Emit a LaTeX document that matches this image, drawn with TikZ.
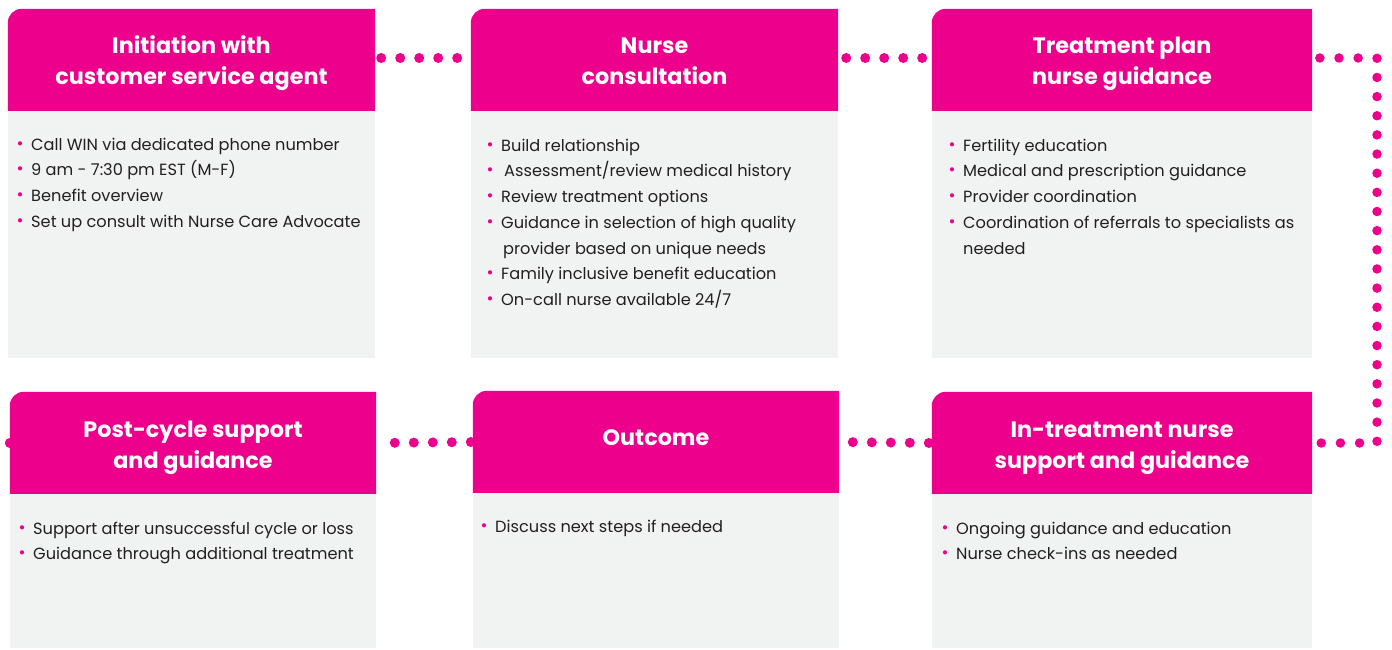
\documentclass[tikz,border=0pt]{standalone}
\usepackage{fontspec}
\setmainfont{Poppins}
\usetikzlibrary{backgrounds}
\definecolor{wpink}{HTML}{EC008C}
\definecolor{wgray}{HTML}{F1F2F2}
\definecolor{wtext}{HTML}{231F20}
\newcommand\bl{\rule{0pt}{14pt}\makebox[0pt][c]{\raisebox{1pt}{\textcolor{wpink}{\fontsize{17}{17}\selectfont •}}}\hspace{11pt}}
\newcommand\nb{\rule{0pt}{14pt}\hspace{11pt}}
\tikzset{
  hdr/.style={inner sep=0pt, minimum height=102pt},
  hdrtxt/.style={inner sep=0pt, text=white, align=center,
    font=\fontsize{22.3}{31}\selectfont\bfseries},
  bodybox/.style={fill=wgray, inner sep=0pt, anchor=north west},
  bodytxt/.style={inner sep=0pt, anchor=north west, align=left, text=wtext,
    font=\fontsize{16.2}{25.7}\selectfont},
  dotline/.style={draw=wpink, line width=10pt, line cap=round, dash pattern=on 0pt off 19pt},
  dotlineb/.style={draw=wpink, line width=9.5pt, line cap=round, dash pattern=on 0pt off 19.15pt},
}
\begin{document}
\begin{tikzpicture}[x=1pt,y=-1pt]
\useasboundingbox (0,0) rectangle (1392,650);
% header boxes
\node[hdr, minimum width=367pt] (h1) at (191.5,60) {};
\node[hdr, minimum width=367pt] (h2) at (654.5,60) {};
\node[hdr, minimum width=380pt] (h3) at (1122,60) {};
\node[hdr, minimum width=366pt] (h4) at (193,443) {};
\node[hdr, minimum width=366pt] (h5) at (656,442) {};
\node[hdr, minimum width=380pt] (h6) at (1122,443) {};
% header texts
\node[hdrtxt, yshift=-3pt] (l1) at (h1) {Initiation with\\customer service agent};
\node[hdrtxt, yshift=-1pt] (l2) at (h2) {Nurse\\consultation};
\node[hdrtxt, yshift=-4pt] (l3) at (h3) {Treatment plan\\nurse guidance};
\node[hdrtxt, yshift=-5pt] (l4) at (h4) {Post-cycle support\\and guidance};
\node[hdrtxt, yshift=4pt] (l5) at (h5) {Outcome};
\node[hdrtxt, yshift=-5pt] (l6) at (h6) {In-treatment nurse\\support and guidance};
% body boxes
\node[bodybox, minimum width=367pt, minimum height=247pt] (b1) at (8,111) {};
\node[bodybox, minimum width=367pt, minimum height=247pt] (b2) at (471,111) {};
\node[bodybox, minimum width=380pt, minimum height=247pt] (b3) at (932,111) {};
\node[bodybox, minimum width=366pt, minimum height=154pt] (b4) at (10,494) {};
\node[bodybox, minimum width=366pt, minimum height=155pt] (b5) at (473,493) {};
\node[bodybox, minimum width=380pt, minimum height=154pt] (b6) at (932,494) {};
% body texts
\node[bodytxt] (t1) at (20,136) {\bl Call WIN via dedicated phone number\\\bl 9 am - 7:30 pm EST (M-F)\\\bl Benefit overview\\\bl Set up consult with Nurse Care Advocate};
\node[bodytxt] (t2) at (490,137) {\bl Build relationship\\\bl\hspace{3pt}Assessment/review medical history\\\bl Review treatment options\\\bl Guidance in selection of high quality\\\nb\hspace{2pt}provider based on unique needs\\\bl Family inclusive benefit education\\\bl On-call nurse available 24/7};
\node[bodytxt] (t3) at (952,137) {\bl Fertility education\\\bl Medical and prescription guidance\\\bl Provider coordination\\\bl Coordination of referrals to specialists as\\\nb needed};
\node[bodytxt] (t4) at (22,520) {\bl Support after unsuccessful cycle or loss\\\bl Guidance through additional treatment};
\node[bodytxt] (t5) at (484,518) {\bl Discuss next steps if needed};
\node[bodytxt] (t6) at (945,520) {\bl Ongoing guidance and education\\\bl Nurse check-ins as needed};
% background: connectors, then card fills
\begin{scope}[on background layer]
  \draw[dotline, dash phase=13pt] ([yshift=2pt]h1.east) -- ([yshift=2pt]h2.west);
  \draw[dotline, dash phase=11pt] ([yshift=2pt]h2.east) -- ([yshift=2pt]h3.west);
  \coordinate (rx) at (1377,250);
  \draw[dotlineb, dash phase=11.5pt] ([yshift=2pt]h3.east) -- ([yshift=2pt]h3.east -| rx) -- (h6.east -| rx) -- (h6.east);
  \draw[dotline, dash phase=16pt] (h6.west) -- (h5.east);
  \draw[dotline, dash phase=17pt] (h5.west) -- (h4.east);
  \draw[dotline, dash phase=0pt] (h4.west) -- ++(-3,0);
  \foreach \n in {h1,h2,h3,h4,h5,h6}{
    \fill[wpink] (\n.south west) [rounded corners=14pt] -- (\n.north west) -- ([xshift=30pt]\n.north west) [sharp corners] -- (\n.north east) -- (\n.south east) -- cycle;
  }
\end{scope}
\end{tikzpicture}
\end{document}
